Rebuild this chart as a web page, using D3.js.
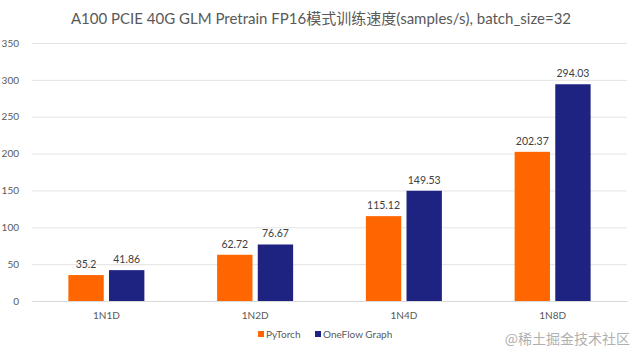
<!DOCTYPE html>
<html><head><meta charset="utf-8">
<script src="https://cdn.jsdelivr.net/npm/d3@7"></script>
<style>body{margin:0;background:#fff;}svg{display:block;font-family:Lato,"Noto Sans CJK SC",sans-serif;}</style>
</head><body><svg id="c" width="640" height="355"></svg>
<script>
const categories = ["1N1D","1N2D","1N4D","1N8D"];
const seriesNames = ["PyTorch","OneFlow Graph"];
const pytorch = [35.2, 62.72, 115.12, 202.37];
const oneflow = [41.86, 76.67, 149.53, 294.03];
const yTicks = [0,50,100,150,200,250,300,350];
const colors = ["#FF6600","#1E2280"];
const title = "A100 PCIE 40G GLM Pretrain FP16模式训练速度(samples/s), batch_size=32";

const svg = d3.select("#c");
const x0 = d3.scaleBand().domain(categories).range([32, 627]);
const x1 = d3.scaleBand().domain(seriesNames).range([0, 76]).paddingInner(0.13);
const y = d3.scaleLinear().domain([0,350]).range([301,43]);

svg.append("text").attr("x",321).attr("y",24).attr("text-anchor","middle")
  .attr("font-size",15).attr("fill","#595959").text(title);

const yAxis = svg.append("g").attr("transform","translate(32,0)")
  .call(d3.axisLeft(y).tickValues(yTicks).tickSize(-595).tickPadding(13));
yAxis.select(".domain").remove();
yAxis.selectAll("line").attr("stroke","#e3e3e3");
yAxis.selectAll("text").attr("font-size",10).attr("fill","#595959").attr("font-family","Lato");

const xAxis = svg.append("g").attr("transform","translate(0,301)")
  .call(d3.axisBottom(x0).tickSize(0).tickPadding(11));
xAxis.select(".domain").attr("stroke","#d9d9d9");
xAxis.selectAll("text").attr("font-size",10).attr("fill","#595959").attr("font-family","Lato");

const data = categories.map((c,i)=>({c, vals:[pytorch[i], oneflow[i]]}));
const g = svg.append("g");
data.forEach(d=>{
  const off = x0(d.c) + (x0.bandwidth()-76)/2;
  d.vals.forEach((v,j)=>{
    const bx = off + x1(seriesNames[j]);
    g.append("rect").attr("x",bx).attr("y",y(v)).attr("width",x1.bandwidth())
      .attr("height",y(0)-y(v)).attr("fill",colors[j]);
    g.append("text").attr("x",bx+x1.bandwidth()/2).attr("y",y(v)-7)
      .attr("text-anchor","middle").attr("font-size",10.5).attr("fill","#404040").text(v);
  });
});

const leg = svg.append("g").attr("transform","translate(0,338)");
const legX = [258, 315];
seriesNames.forEach((n,j)=>{
  leg.append("rect").attr("x",legX[j]).attr("y",-7).attr("width",6).attr("height",6).attr("fill",colors[j]);
  leg.append("text").attr("x",legX[j]+8).attr("y",0).attr("font-size",10).attr("fill","#595959").text(n);
});
svg.append("text").attr("x",630).attr("y",344).attr("text-anchor","end")
  .attr("font-size",14).attr("fill","#b0b0b0").attr("font-family","Noto Sans CJK SC").text("@稀土掘金技术社区");
</script></body></html>
